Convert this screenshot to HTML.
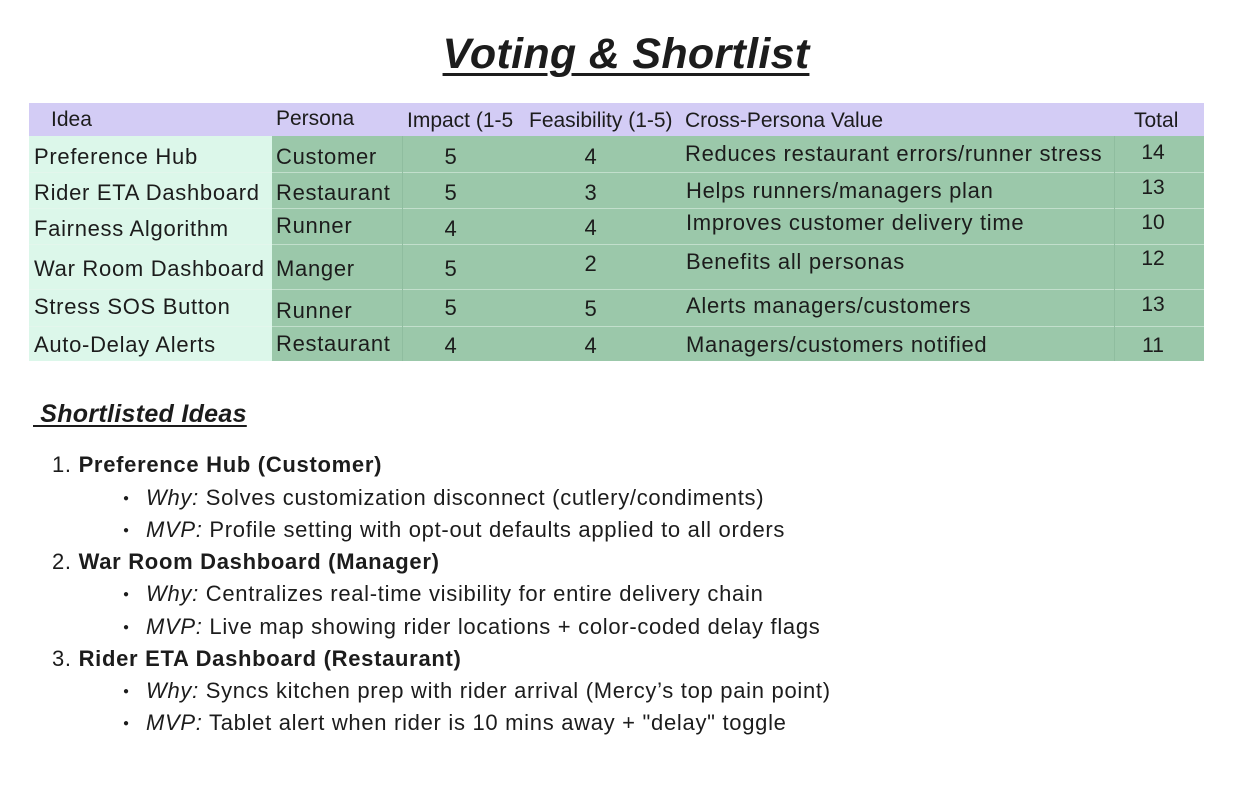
<!DOCTYPE html>
<html><head><meta charset="utf-8">
<style>
body{margin:0;width:1257px;height:795px;background:#fff;position:relative;overflow:hidden;font-family:"Liberation Sans","DejaVu Sans",sans-serif;color:#1c1c1c}
.a{position:absolute;white-space:nowrap;height:30px;line-height:30px;font-size:22px;letter-spacing:0.7px;margin-top:1px}
.h{font-size:21px;letter-spacing:0}
.c{position:absolute}
.n{text-align:center}
.bl{position:absolute;left:123px;font-size:10px;height:30px;line-height:30px;margin-top:3px}
</style></head><body>
<div class="a" style="left:0;width:1252px;text-align:center;top:29px;height:48px;line-height:48px;font-size:43px;letter-spacing:0.3px;font-weight:bold;font-style:italic;text-decoration:underline;text-decoration-thickness:3px;text-underline-offset:5px">Voting &amp; Shortlist</div>

<div>
<div class="c" style="left:29px;top:103px;width:1175px;height:33px;background:#d3ccf5"></div>
<div class="c" style="left:29px;top:136px;width:243px;height:225px;background:#dcf7ea"></div>
<div class="c" style="left:272px;top:136px;width:932px;height:225px;background:#9bc8aa"></div>
<div class="c" style="left:29px;top:172px;width:1175px;height:1px;background:#e9f6ee;opacity:.5"></div>
<div class="c" style="left:29px;top:208px;width:1175px;height:1px;background:#e9f6ee;opacity:.5"></div>
<div class="c" style="left:29px;top:244px;width:1175px;height:1px;background:#e9f6ee;opacity:.5"></div>
<div class="c" style="left:29px;top:289px;width:1175px;height:1px;background:#e9f6ee;opacity:.5"></div>
<div class="c" style="left:29px;top:326px;width:1175px;height:1px;background:#e9f6ee;opacity:.5"></div>
<div class="c" style="left:402px;top:136px;width:1px;height:225px;background:#8fbd9f"></div>
<div class="c" style="left:1114px;top:136px;width:1px;height:225px;background:#8fbd9f"></div>

<div class="a h" style="left:51px;top:104px">Idea</div>
<div class="a h" style="left:276px;top:103px">Persona</div>
<div class="a h" style="left:407px;top:105px">Impact (1-5</div>
<div class="a h" style="left:529px;top:105px">Feasibility (1-5)</div>
<div class="a h" style="left:685px;top:105px">Cross-Persona Value</div>
<div class="a h" style="left:1134px;top:105px">Total</div>

<div class="a" style="left:34px;top:141px">Preference Hub</div>
<div class="a" style="left:34px;top:177px">Rider ETA Dashboard</div>
<div class="a" style="left:34px;top:213px">Fairness Algorithm</div>
<div class="a" style="left:34px;top:253px">War Room Dashboard</div>
<div class="a" style="left:34px;top:291px">Stress SOS Button</div>
<div class="a" style="left:34px;top:329px">Auto-Delay Alerts</div>

<div class="a" style="left:276px;top:141px">Customer</div>
<div class="a" style="left:276px;top:177px">Restaurant</div>
<div class="a" style="left:276px;top:210px">Runner</div>
<div class="a" style="left:276px;top:253px">Manger</div>
<div class="a" style="left:276px;top:295px">Runner</div>
<div class="a" style="left:276px;top:328px">Restaurant</div>

<div class="a n" style="left:431px;width:40px;top:141px">5</div>
<div class="a n" style="left:431px;width:40px;top:177px">5</div>
<div class="a n" style="left:431px;width:40px;top:213px">4</div>
<div class="a n" style="left:431px;width:40px;top:253px">5</div>
<div class="a n" style="left:431px;width:40px;top:292px">5</div>
<div class="a n" style="left:431px;width:40px;top:330px">4</div>

<div class="a n" style="left:571px;width:40px;top:141px">4</div>
<div class="a n" style="left:571px;width:40px;top:177px">3</div>
<div class="a n" style="left:571px;width:40px;top:212px">4</div>
<div class="a n" style="left:571px;width:40px;top:248px">2</div>
<div class="a n" style="left:571px;width:40px;top:293px">5</div>
<div class="a n" style="left:571px;width:40px;top:330px">4</div>

<div class="a" style="left:685px;top:138px">Reduces restaurant errors/runner stress</div>
<div class="a" style="left:686px;top:175px">Helps runners/managers plan</div>
<div class="a" style="left:686px;top:207px">Improves customer delivery time</div>
<div class="a" style="left:686px;top:246px">Benefits all personas</div>
<div class="a" style="left:686px;top:290px">Alerts managers/customers</div>
<div class="a" style="left:686px;top:329px">Managers/customers notified</div>

<div class="a n h" style="left:1133px;width:40px;top:137px">14</div>
<div class="a n h" style="left:1133px;width:40px;top:172px">13</div>
<div class="a n h" style="left:1133px;width:40px;top:207px">10</div>
<div class="a n h" style="left:1133px;width:40px;top:243px">12</div>
<div class="a n h" style="left:1133px;width:40px;top:289px">13</div>
<div class="a n h" style="left:1133px;width:40px;top:330px">11</div>
</div>

<div class="a" style="left:33px;top:398px;font-size:25px;letter-spacing:0.3px;font-weight:bold;font-style:italic;text-decoration:underline;text-underline-offset:3px">&nbsp;Shortlisted Ideas</div>

<div>
<div class="a" style="left:52px;top:449px">1. <b>Preference Hub (Customer)</b></div>
<div class="bl" style="top:481px">●</div>
<div class="a" style="left:146px;top:482px"><i>Why:</i> Solves customization disconnect (cutlery/condiments)</div>
<div class="bl" style="top:513px">●</div>
<div class="a" style="left:146px;top:514px"><i>MVP:</i> Profile setting with opt-out defaults applied to all orders</div>
<div class="a" style="left:52px;top:546px">2. <b>War Room Dashboard (Manager)</b></div>
<div class="bl" style="top:577px">●</div>
<div class="a" style="left:146px;top:578px"><i>Why:</i> Centralizes real-time visibility for entire delivery chain</div>
<div class="bl" style="top:610px">●</div>
<div class="a" style="left:146px;top:611px"><i>MVP:</i> Live map showing rider locations + color-coded delay flags</div>
<div class="a" style="left:52px;top:643px">3. <b>Rider ETA Dashboard (Restaurant)</b></div>
<div class="bl" style="top:674px">●</div>
<div class="a" style="left:146px;top:675px"><i>Why:</i> Syncs kitchen prep with rider arrival (Mercy’s top pain point)</div>
<div class="bl" style="top:706px">●</div>
<div class="a" style="left:146px;top:707px"><i>MVP:</i> Tablet alert when rider is 10 mins away + "delay" toggle</div>
</div>
</body></html>
